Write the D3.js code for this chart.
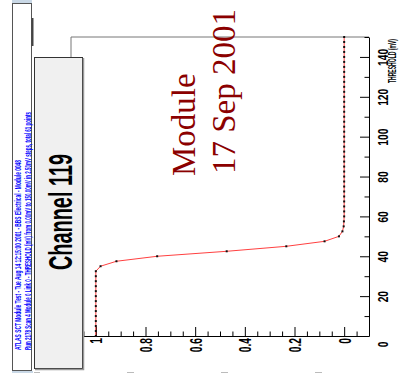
<!DOCTYPE html>
<html>
<head>
<meta charset="utf-8">
<script src="https://cdn.jsdelivr.net/npm/d3@7"></script>
<style>
  body { margin: 0; background: #fff; }
  svg { display: block; }
</style>
</head>
<body>
<div class="chart"></div>
<script>

// DATA ------------------------------

const thresholds = [0, 2.5, 5, 7.5, 10, 12.5, 15, 17.5, 20, 22.5, 25, 27.5, 30, 32.5,
  35, 37.5, 40, 42.5, 45, 47.5, 50, 52.5, 55, 57.5, 60, 62.5, 65, 67.5, 70, 72.5,
  75, 77.5, 80, 82.5, 85, 87.5, 90, 92.5, 95, 97.5, 100, 102.5, 105, 107.5, 110,
  112.5, 115, 117.5, 120, 122.5, 125, 127.5, 130, 132.5, 135, 137.5, 140, 142.5,
  145, 147.5, 150];

const occupancy = [1, 1, 1, 1, 1, 1, 1, 1, 1, 1, 1, 1, 1, 1,
  0.981, 0.917, 0.753, 0.473, 0.233, 0.079, 0.021, 0.007, 0.002, 0.001,
  0, 0, 0, 0, 0, 0, 0, 0, 0, 0, 0, 0, 0, 0, 0, 0, 0, 0, 0, 0, 0, 0, 0,
  0, 0, 0, 0, 0, 0, 0, 0, 0, 0, 0, 0, 0, 0];

const occTicks = [0, 0.2, 0.4, 0.6, 0.8, 1];
const occMinor = [-0.05, 0.05, 0.1, 0.15, 0.25, 0.3, 0.35, 0.45, 0.5, 0.55,
  0.65, 0.7, 0.75, 0.85, 0.9, 0.95, 1.05];
const thrTicks = [0, 20, 40, 60, 80, 100, 120, 140];
const thrMinor = [10, 30, 50, 70, 90, 110, 130, 150];

const titleText = "Channel 119";
const noteLines = ["Module", "17 Sep 2001"];
const infoLines = [
  "ATLAS SCT Module Test - Tue Aug 14 12:15:00 2001 - BBS Electrical - Module 0048",
  "Run 2178 Scan 4 Module 0 Link 0 - THRESHOLD (mV) from 0.00mV to 150.00mV in 2.50mV steps, total 61 points"
];
const axisTitle = "THRESHOLD (mV)";

// CHART INIT ------------------------------

const W = 406, H = 383;
const frame = {left: 71, right: 369, top: 37, bottom: 336};

const svg = d3.select(".chart").append("svg")
  .attr("width", W)
  .attr("height", H);

const sans = "'Liberation Sans', Arial, Helvetica, sans-serif";

// occupancy runs right-to-left, threshold bottom-to-top (rotated page)
const xScale = d3.scaleLinear()
  .domain([-0.1, 1.1])
  .range([frame.right, frame.left]);

const yScale = d3.scaleLinear()
  .domain([0, 150])
  .range([frame.bottom, frame.top]);

// frame top + left edge
svg.append("path")
  .attr("d", `M${frame.left},${frame.bottom}V${frame.top}H${frame.right}`)
  .attr("fill", "none")
  .attr("stroke", "#777")
  .attr("stroke-width", 1);

// bottom axis (occupancy), ticks pointing into frame
const occAxis = svg.append("g")
  .attr("class", "x-axis")
  .attr("transform", `translate(0,${frame.bottom})`)
  .call(d3.axisTop(xScale).tickValues(occTicks).tickSize(9).tickSizeOuter(0)
    .tickFormat(d => (d === 0 || d === 1) ? String(d) : d.toFixed(1)));

occAxis.selectAll("text")
  .attr("x", null).attr("y", null).attr("dy", null)
  .attr("text-anchor", "end")
  .attr("transform", "translate(6,2) rotate(-90) scale(0.6,1)")
  .attr("font-family", sans)
  .attr("font-weight", "bold")
  .attr("font-size", 17)
  .attr("fill", "#000");

svg.append("g")
  .attr("transform", `translate(0,${frame.bottom})`)
  .call(d3.axisTop(xScale).tickValues(occMinor).tickSize(4.5).tickSizeOuter(0).tickFormat(""))
  .select(".domain").remove();

// right axis (threshold), ticks pointing into frame
const thrAxis = svg.append("g")
  .attr("class", "y-axis")
  .attr("transform", `translate(${frame.right},0)`)
  .call(d3.axisLeft(yScale).tickValues(thrTicks).tickSize(9).tickSizeOuter(0));

thrAxis.selectAll("text")
  .attr("x", null).attr("y", null).attr("dy", null)
  .attr("text-anchor", "middle")
  .attr("transform", d => `translate(19,${d === 0 ? 8 : 0}) rotate(-90) scale(0.68,1)`)
  .attr("font-family", sans)
  .attr("font-weight", "bold")
  .attr("font-size", 15)
  .attr("fill", "#000");

svg.append("g")
  .attr("transform", `translate(${frame.right},0)`)
  .call(d3.axisLeft(yScale).tickValues(thrMinor).tickSize(4.5).tickSizeOuter(0).tickFormat(""))
  .select(".domain").remove();

svg.selectAll(".domain").attr("stroke", "#000");

svg.append("text")
  .attr("class", "y-axis-title")
  .attr("transform", `translate(396,${frame.top + 2}) rotate(-90)`)
  .attr("text-anchor", "end")
  .attr("font-family", sans)
  .attr("font-weight", "bold")
  .attr("font-size", 10)
  .attr("textLength", 44)
  .attr("lengthAdjust", "spacingAndGlyphs")
  .text(axisTitle);

// CURVE -------------------------------------

const pts = thresholds.map((t, i) => ({t: t, o: occupancy[i]}));

const line = d3.line()
  .x(d => xScale(d.o))
  .y(d => yScale(d.t));

svg.append("path")
  .datum(pts)
  .attr("d", line)
  .attr("fill", "none")
  .attr("stroke", "#ff0000")
  .attr("stroke-opacity", 0.75)
  .attr("stroke-width", 1);

svg.selectAll(".dot")
  .data(pts)
  .enter()
  .append("rect")
  .attr("class", "dot")
  .attr("x", d => xScale(d.o) - 1)
  .attr("y", d => yScale(d.t) - 1)
  .attr("width", 2)
  .attr("height", 2)
  .attr("fill", "#111");

// NOTE TEXT ---------------------------------

svg.selectAll(".note")
  .data(noteLines)
  .enter()
  .append("text")
  .attr("class", "note")
  .attr("transform", (d, i) => `translate(${195 + i * 40},${176 - i * 2}) rotate(-90)`)
  .attr("font-family", "'Liberation Serif', 'Times New Roman', serif")
  .attr("font-size", 33)
  .attr("fill", "#8b0000")
  .text(d => d);

// TITLE BOX ---------------------------------

svg.append("rect")
  .attr("x", 34.5).attr("y", 57.5)
  .attr("width", 48).attr("height", 311)
  .attr("fill", "#f0f0f0")
  .attr("stroke", "#333")
  .attr("stroke-width", 1);

svg.append("path")
  .attr("d", "M83.5,58V369.5H35")
  .attr("fill", "none")
  .attr("stroke", "#999")
  .attr("stroke-width", 1.5);

svg.append("text")
  .attr("transform", "translate(72,212) rotate(-90) scale(0.585,1)")
  .attr("text-anchor", "middle")
  .attr("font-family", sans)
  .attr("font-weight", "bold")
  .attr("font-size", 34)
  .attr("fill", "#000")
  .text(titleText);

// INFO BOX ----------------------------------

svg.append("rect")
  .attr("x", 12).attr("y", 0)
  .attr("width", 20).attr("height", 3)
  .attr("fill", "#c9d8e6");

svg.append("rect")
  .attr("x", 12.5).attr("y", 3.5)
  .attr("width", 19).attr("height", 367)
  .attr("fill", "#fff")
  .attr("stroke", "#555")
  .attr("stroke-width", 1);

svg.append("line")
  .attr("x1", 32.5).attr("x2", 32.5)
  .attr("y1", 18).attr("y2", 46)
  .attr("stroke", "#444")
  .attr("stroke-width", 2);

svg.append("rect")
  .attr("x", 12).attr("y", 371)
  .attr("width", 21).attr("height", 2)
  .attr("fill", "#c9d8e6");

const infoLen = [190, 238];
svg.selectAll(".info")
  .data(infoLines)
  .enter()
  .append("text")
  .attr("class", "info")
  .attr("transform", (d, i) => `translate(${20.5 + i * 10},350) rotate(-90)`)
  .attr("font-family", sans)
  .attr("font-weight", "bold")
  .attr("font-size", 9)
  .attr("fill", "#0000ff")
  .attr("textLength", (d, i) => infoLen[i])
  .attr("lengthAdjust", "spacingAndGlyphs")
  .text(d => d);

// stray marks along the bottom edge
svg.selectAll(".stray")
  .data([[34, 40], [127, 134], [221, 228], [315, 322]])
  .enter()
  .append("line")
  .attr("class", "stray")
  .attr("x1", d => d[0]).attr("x2", d => d[1])
  .attr("y1", 372.5).attr("y2", 372.5)
  .attr("stroke", "#bbb")
  .attr("stroke-width", 1);

</script>
</body>
</html>
